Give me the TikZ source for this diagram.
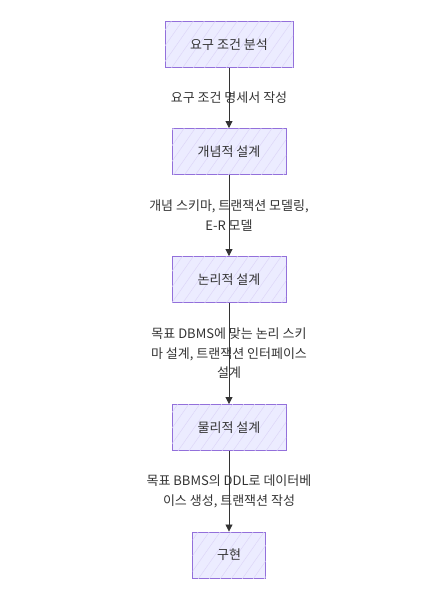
\documentclass[tikz,border=0pt]{standalone}
\usepackage{fontspec}
\setmainfont{Noto Sans CJK KR}
\usetikzlibrary{arrows.meta,patterns.meta}
\definecolor{boxfill}{HTML}{ECECFF}
\definecolor{boxline}{HTML}{9370DB}
\definecolor{hatch}{HTML}{DDD6F8}
\definecolor{ink}{HTML}{333333}
\tikzset{
  stage/.style={draw=boxline, line width=0.9pt, fill=boxfill,
    postaction={pattern={Lines[angle=55,distance=9pt,line width=0.5pt]}, pattern color=hatch},
    minimum height=46pt, inner sep=0pt, text=ink, font=\fontsize{13}{15}\selectfont},
  flow/.style={draw=ink, line width=0.8pt, -{Triangle[width=7pt,length=7pt]}},
  elabel/.style={text=ink, align=center, font=\fontsize{13}{19.5}\selectfont, inner sep=0pt}
}
\begin{document}
\begin{tikzpicture}[x=1pt,y=-1pt]
\useasboundingbox (0,0) rectangle (442,611);
\node[stage, minimum width=128pt] (b1) at (229,44.5) {요구 조건 분석};
\node[stage, minimum width=114pt] (b2) at (229,151.5) {개념적 설계};
\node[stage, minimum width=114pt] (b3) at (229,279.5) {논리적 설계};
\node[stage, minimum width=114pt] (b4) at (229,427.5) {물리적 설계};
\node[stage, minimum width=73pt] (b5) at (229,555) {구현};
\draw[flow] (b1) -- (b2) node[elabel, midway] {요구 조건 명세서 작성};
\draw[flow] (b2) -- (b3) node[elabel, midway] {개념 스키마, 트랜잭션 모델링,\\E-R 모델};
\draw[flow] (b3) -- (b4) node[elabel, midway] {목표 DBMS에 맞는 논리 스키\\마 설계, 트랜잭션 인터페이스\\설계};
\draw[flow] (b4) -- (b5) node[elabel, midway] {목표 BBMS의 DDL로 데이터베\\이스 생성, 트랜잭션 작성};
\end{tikzpicture}
\end{document}
